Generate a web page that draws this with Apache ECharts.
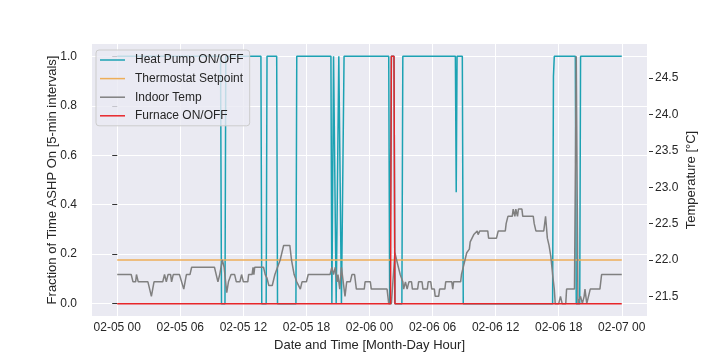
<!DOCTYPE html>
<html><head><meta charset="utf-8">
<script src="https://cdn.jsdelivr.net/npm/echarts@6/dist/echarts.min.js"></script>
<style>html,body{margin:0;padding:0;background:#fff}#c{width:720px;height:360px}</style>
</head><body><div id="c"></div>
<script>
// hours since 02-05 00:00
const xTickValues = [0, 6, 12, 18, 24, 30, 36, 42, 48];
const xTickLabels = ['02-05 00', '02-05 06', '02-05 12', '02-05 18', '02-06 00', '02-06 06', '02-06 12', '02-06 18', '02-07 00'];
const leftTicks = [0, 0.2, 0.4, 0.6, 0.8, 1.0];
const rightTicks = [21.5, 22.0, 22.5, 23.0, 23.5, 24.0, 24.5];

const hpTime = [0, 9.83, 9.92, 10.25, 10.33, 13.67, 13.75, 14.17, 14.25, 15.17, 15.25, 17.0, 17.08, 20.33, 20.42, 20.5, 20.58, 20.75, 20.83, 21.0, 21.08, 21.25, 21.33, 21.5, 21.58, 25.83, 25.92, 26.0, 26.08, 26.33, 26.42, 27.08, 27.17, 32.17, 32.25, 32.33, 32.83, 32.92, 41.42, 41.5, 41.58, 43.58, 43.67, 44.0, 44.08, 48.0];
const hpValue = [1, 1, 0, 0, 1, 1, 0, 0, 1, 1, 0, 0, 1, 1, 0, 0, 1, 1, 0, 0, 1, 1, 0, 0, 1, 1, 0, 0, 1, 1, 0, 0, 1, 1, 0.45, 1, 1, 0, 0, 0.92, 1, 1, 0, 0, 1, 1];

const setTime = [0, 48];
const setValue = [22.0, 22.0];

const tempTime = [0, 1.33, 1.5, 1.75, 1.83, 2.0, 2.92, 3.25, 3.5, 4.33, 4.5, 4.67, 4.83, 5.08, 5.17, 5.33, 5.92, 6.33, 6.58, 6.92, 7.08, 9.25, 9.58, 9.75, 10.0, 10.17, 10.42, 10.58, 10.83, 11.17, 11.33, 11.67, 11.83, 12.0, 12.42, 12.5, 12.83, 12.92, 13.0, 13.08, 13.92, 14.08, 14.25, 14.42, 14.75, 15.0, 15.25, 15.5, 15.83, 16.42, 16.58, 16.83, 17.08, 17.25, 17.42, 17.58, 18.0, 18.17, 20.25, 20.42, 20.58, 20.75, 20.92, 21.0, 21.17, 21.33, 21.5, 21.67, 21.83, 22.17, 22.33, 22.58, 22.75, 23.5, 23.58, 24.08, 24.17, 25.67, 25.83, 26.08, 26.42, 26.58, 26.92, 27.17, 27.25, 27.42, 27.58, 27.75, 28.0, 28.08, 28.58, 28.67, 29.0, 29.08, 29.5, 29.58, 29.83, 29.92, 30.17, 30.25, 30.58, 30.67, 31.17, 31.25, 31.83, 31.92, 32.0, 32.67, 32.75, 32.92, 33.25, 33.5, 33.58, 33.75, 33.92, 34.08, 34.25, 34.33, 34.5, 35.25, 35.33, 36.08, 36.25, 36.92, 37.0, 37.17, 37.58, 37.67, 37.75, 37.83, 37.92, 38.0, 38.08, 38.17, 38.5, 38.58, 39.58, 39.67, 39.83, 40.58, 40.75, 40.92, 41.08, 41.25, 41.42, 41.58, 41.67, 42.0, 42.17, 42.33, 42.67, 42.75, 43.5, 43.67, 43.83, 44.08, 44.25, 44.42, 44.5, 44.67, 44.83, 45.0, 45.92, 46.08, 48.0];
const tempValue = [21.8, 21.8, 21.7, 21.7, 21.8, 21.7, 21.7, 21.5, 21.7, 21.7, 21.8, 21.7, 21.8, 21.8, 21.7, 21.8, 21.8, 21.6, 21.8, 21.8, 21.9, 21.9, 21.7, 21.8, 22.0, 21.9, 21.55, 21.7, 21.8, 21.8, 21.7, 21.7, 21.8, 21.7, 21.7, 21.8, 21.8, 21.9, 21.8, 21.9, 21.9, 21.8, 21.75, 21.65, 21.65, 21.8, 21.9, 22.0, 22.2, 22.2, 22.0, 21.8, 21.7, 21.7, 21.6, 21.7, 21.7, 21.8, 21.8, 21.9, 21.8, 21.9, 21.7, 21.8, 21.6, 21.9, 21.9, 21.5, 21.7, 21.7, 21.8, 21.8, 21.6, 21.6, 21.7, 21.7, 21.6, 21.6, 21.4, 21.4, 22.1, 22.0, 21.8, 21.7, 21.6, 21.7, 21.6, 21.7, 21.7, 21.6, 21.6, 21.7, 21.7, 21.6, 21.6, 21.7, 21.7, 21.6, 21.6, 21.5, 21.5, 21.6, 21.6, 21.7, 21.7, 21.6, 21.7, 21.7, 21.8, 21.8, 22.1, 22.15, 22.25, 22.25, 22.35, 22.35, 22.4, 22.35, 22.4, 22.4, 22.3, 22.3, 22.4, 22.4, 22.5, 22.6, 22.6, 22.7, 22.7, 22.6, 22.7, 22.7, 22.6, 22.7, 22.7, 22.6, 22.6, 22.5, 22.4, 22.4, 22.6, 22.3, 22.2, 22.05, 21.8, 21.6, 21.4, 21.4, 21.5, 21.4, 21.4, 21.6, 21.6, 24.8, 21.4, 21.5, 21.4, 21.5, 21.6, 21.4, 21.4, 21.6, 21.6, 21.8, 21.8];

const furnTime = [0, 26.0, 26.08, 26.33, 26.42, 48];
const furnValue = [0, 0, 1, 1, 0, 0];

const zip = (t, v) => t.map((x, i) => [x, v[i]]);
const font = '"Liberation Sans", Arial, sans-serif';
const txt = '#262626';
const lineIcon = 'path://M0,0M25,12M0,5.25L25,5.25L25,6.75L0,6.75Z';

const chart = echarts.init(document.getElementById('c'), null, {renderer: 'canvas'});
chart.setOption({
  animation: false,
  textStyle: {fontFamily: font},
  grid: {left: 92, right: 73, top: 44, bottom: 44, show: true, backgroundColor: '#EAEAF2', borderWidth: 0},
  legend: {
    left: 96, top: 50, orient: 'vertical',
    icon: lineIcon,
    itemWidth: 25, itemHeight: 12, itemGap: 6.6,
    padding: [4, 6, 4, 4],
    backgroundColor: 'rgba(234,234,242,0.8)', borderColor: '#cccccc', borderWidth: 1, borderRadius: 3,
    textStyle: {fontSize: 12, color: txt, fontFamily: font, padding: [0, 0, 0, 5]},
    data: ['Heat Pump ON/OFF', 'Thermostat Setpoint', 'Indoor Temp', 'Furnace ON/OFF']
  },
  xAxis: {
    type: 'value', min: -2.4, max: 50.4,
    axisLine: {show: false},
    axisTick: {show: false, customValues: xTickValues},
    axisLabel: {customValues: xTickValues, margin: 6, fontSize: 12, color: txt, fontFamily: font,
      formatter: v => xTickLabels[xTickValues.indexOf(v)]},
    splitLine: {show: true, lineStyle: {color: '#ffffff', width: 1}},
    name: 'Date and Time [Month-Day Hour]', nameLocation: 'middle', nameGap: 23,
    nameTextStyle: {fontSize: 13, color: txt, fontFamily: font}
  },
  yAxis: [{
    type: 'value', min: -0.05, max: 1.05, position: 'left', offset: 3,
    axisLine: {show: false},
    axisTick: {show: true, customValues: leftTicks, length: 5, lineStyle: {color: '#333'}},
    axisLabel: {customValues: leftTicks, margin: 12, fontSize: 12, color: txt, fontFamily: font,
      formatter: v => v.toFixed(1)},
    splitLine: {show: true, lineStyle: {color: '#ffffff', width: 1}},
    name: 'Fraction of Time ASHP On [5-min intervals]', nameLocation: 'middle', nameGap: 30, nameMoveOverlap: false,
    nameTextStyle: {fontSize: 13, color: txt, fontFamily: font}
  }, {
    type: 'value', min: 21.23, max: 24.97, position: 'right', offset: 2,
    axisLine: {show: false},
    axisTick: {show: true, customValues: rightTicks, length: 4, lineStyle: {color: '#333'}},
    axisLabel: {customValues: rightTicks, margin: 6, fontSize: 12, color: txt, fontFamily: font,
      formatter: v => v.toFixed(1)},
    splitLine: {show: false},
    name: 'Temperature [°C]', nameLocation: 'middle', nameGap: 36, nameMoveOverlap: false,
    nameTextStyle: {fontSize: 13, color: txt, fontFamily: font}
  }],
  series: [
    {name: 'Heat Pump ON/OFF', type: 'line', yAxisIndex: 0, symbol: 'none', data: zip(hpTime, hpValue),
      lineStyle: {color: '#1ca2b3', width: 1.5}, itemStyle: {color: '#1ca2b3'}},
    {name: 'Thermostat Setpoint', type: 'line', yAxisIndex: 1, symbol: 'none', data: zip(setTime, setValue),
      lineStyle: {color: '#eeae58', width: 1.5}, itemStyle: {color: '#eeae58'}},
    {name: 'Indoor Temp', type: 'line', yAxisIndex: 1, symbol: 'none', data: zip(tempTime, tempValue),
      lineStyle: {color: '#808080', width: 1.5}, itemStyle: {color: '#808080'}},
    {name: 'Furnace ON/OFF', type: 'line', yAxisIndex: 0, symbol: 'none', data: zip(furnTime, furnValue),
      lineStyle: {color: '#e8262a', width: 1.5}, itemStyle: {color: '#e8262a'}}
  ]
});
</script></body></html>
